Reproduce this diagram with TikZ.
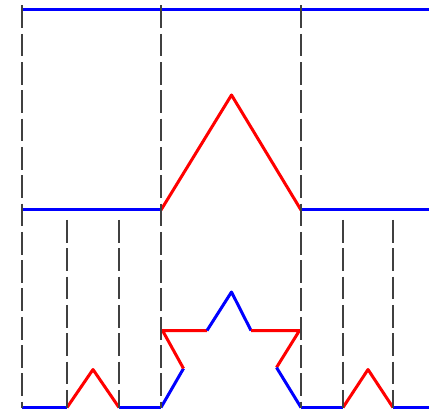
\documentclass[tikz,border=0pt]{standalone}
\begin{document}
\begin{tikzpicture}[x=1pt, y=-1pt,
  blueseg/.style={blue, line width=3pt, line join=round},
  redseg/.style={red, line width=3pt, line join=round},
  guide/.style={black!75, line width=2pt, dash pattern=on 22.7pt off 5.6pt}]
  \clip (0,0) rectangle (429,409);
  % Level 0: straight segment
  \draw[blueseg] (22,10) -- (440,10);
  % Level 1: one bump
  \draw[blueseg] (22,210) -- (161,210);
  \draw[redseg] (161,210) -- (231.5,95) -- (301,210);
  \draw[blueseg] (301,210) -- (440,210);
  % Level 2: left third
  \draw[blueseg] (22,407.5) -- (67,407.5);
  \draw[redseg] (67,407.5) -- (93,369.5) -- (119,407.5);
  \draw[blueseg] (119,407.5) -- (161,407.5);
  % Level 2: middle third
  \draw[blueseg] (161,407.5) -- (183.5,368.5);
  \draw[redseg] (183.5,368.5) -- (162.5,330.5) -- (207,330.5);
  \draw[blueseg] (207,330.5) -- (231.5,292) -- (251,330.5);
  \draw[redseg] (251,330.5) -- (299.5,330.5) -- (276.5,367.5);
  \draw[blueseg] (276.5,367.5) -- (301,407.5);
  % Level 2: right third
  \draw[blueseg] (301,407.5) -- (343,407.5);
  \draw[redseg] (343,407.5) -- (368,369.5) -- (393,407.5);
  \draw[blueseg] (393,407.5) -- (440,407.5);
  % Guides
  \foreach \x in {22,161,301} { \draw[guide] (\x,5.5) -- (\x,407.5); }
  \foreach \x in {67,119,343,393} { \draw[guide] (\x,220) -- (\x,407.5); }
\end{tikzpicture}
\end{document}
